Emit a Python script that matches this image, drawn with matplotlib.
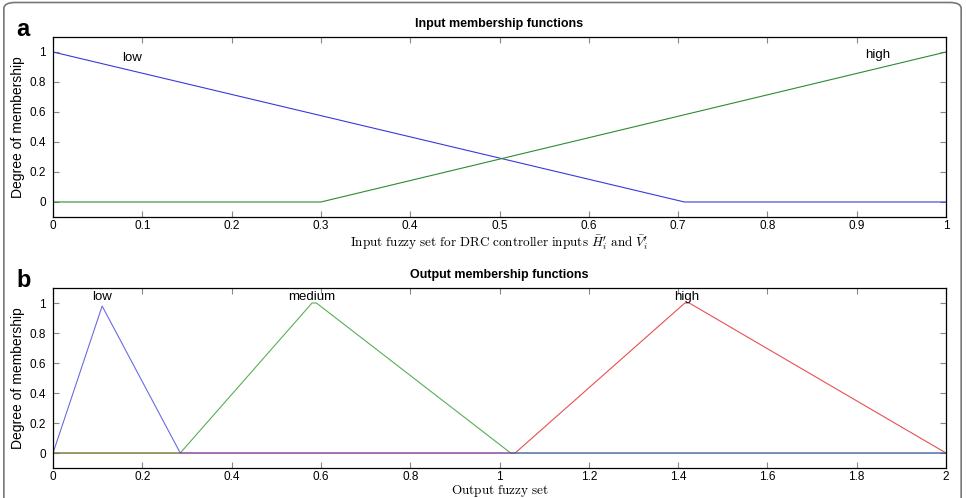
import matplotlib
matplotlib.use("Agg")
import matplotlib.pyplot as plt
from matplotlib.patches import FancyBboxPatch

plt.rcParams['font.family'] = ['Liberation Sans', 'DejaVu Sans']
plt.rcParams['mathtext.fontset'] = 'cm'

# input membership functions (breakpoints)
in_low_x = [0, 0.707, 1]
in_low_y = [1, 0, 0]
in_high_x = [0, 0.3, 1]
in_high_y = [0, 0, 1]

# output membership functions (breakpoints)
out_low_x = [0, 0.11, 0.285, 2]
out_low_y = [0, 0.98, 0, 0]
out_med_x = [0, 0.285, 0.58, 0.59, 1.025, 2]
out_med_y = [0, 0, 1, 1, 0, 0]
out_high_x = [0, 1.035, 1.415, 1.425, 2]
out_high_y = [0, 0, 1, 1, 0]

in_ticks = [0, 0.1, 0.2, 0.3, 0.4, 0.5, 0.6, 0.7, 0.8, 0.9, 1]
out_ticks = [0, 0.2, 0.4, 0.6, 0.8, 1, 1.2, 1.4, 1.6, 1.8, 2]
y_ticks = [0, 0.2, 0.4, 0.6, 0.8, 1]

fig = plt.figure(figsize=(9.66, 4.98), dpi=100)

border = FancyBboxPatch((0.004, -0.05), 0.991, 1.045, boxstyle="round,pad=0,rounding_size=0.012",
                        transform=fig.transFigure, fill=False, edgecolor='#777777', linewidth=1.2)
fig.patches.append(border)


def style_ax(ax, xticks, xlim):
    ax.set_xlim(xlim)
    ax.set_ylim(-0.1, 1.1)
    ax.set_xticks(xticks)
    ax.set_xticklabels([f"{t:g}" for t in xticks])
    ax.set_yticks(y_ticks)
    ax.set_yticklabels([f"{t:g}" for t in y_ticks])
    ax.tick_params(direction='in', top=True, right=True, length=4, width=0.8,
                   color='#888888', labelsize=8.5)
    ax.tick_params(axis='x', pad=2)
    ax.tick_params(axis='y', pad=5)
    for s in ax.spines.values():
        s.set_linewidth(0.9)
    ax.set_ylabel("Degree of membership", fontsize=10, labelpad=3)


ax1 = fig.add_axes([0.0549, 0.5643, 0.9244, 0.3614])
ax1.plot(in_low_x, in_low_y, color='#3a3ad8', lw=0.8)
ax1.plot(in_high_x, in_high_y, color='#2e8b2e', lw=0.8)
style_ax(ax1, in_ticks, (0, 1))
ax1.text(0.088, 0.96, "low", fontsize=9.5, ha='center', va='center')
ax1.text(0.924, 0.98, "high", fontsize=9.5, ha='center', va='center')
ax1.set_title("Input membership functions", fontsize=9, fontweight='bold', pad=7)
ax1.set_xlabel(r"$\mathrm{Input\ fuzzy\ set\ for\ DRC\ controller\ inputs}\ \bar{H}_i'\ \mathrm{and}\ \bar{V}_i'$",
               fontsize=9.5, labelpad=1)
fig.text(0.017, 0.94, "a", fontsize=17, fontweight='bold', va='center')

ax2 = fig.add_axes([0.0549, 0.0602, 0.9244, 0.3614])
ax2.plot(out_high_x, out_high_y, color='#e83030', lw=0.8, alpha=0.85)
ax2.plot(out_med_x, out_med_y, color='#2e9b2e', lw=0.8, alpha=0.8)
ax2.plot(out_low_x, out_low_y, color='#3a3ad8', lw=0.8, alpha=0.75)
style_ax(ax2, out_ticks, (0, 2))
ax2.text(0.11, 1.0, "low", fontsize=9.5, ha='center', va='bottom')
ax2.text(0.58, 1.0, "medium", fontsize=9.5, ha='center', va='bottom')
ax2.text(1.42, 1.0, "high", fontsize=9.5, ha='center', va='bottom')
ax2.set_title("Output membership functions", fontsize=9, fontweight='bold', pad=7)
ax2.set_xlabel(r"$\mathrm{Output\ fuzzy\ set}$", fontsize=9.5, labelpad=0)
fig.text(0.017, 0.437, "b", fontsize=17, fontweight='bold', va='center')

fig.savefig("out.png", dpi=100)
